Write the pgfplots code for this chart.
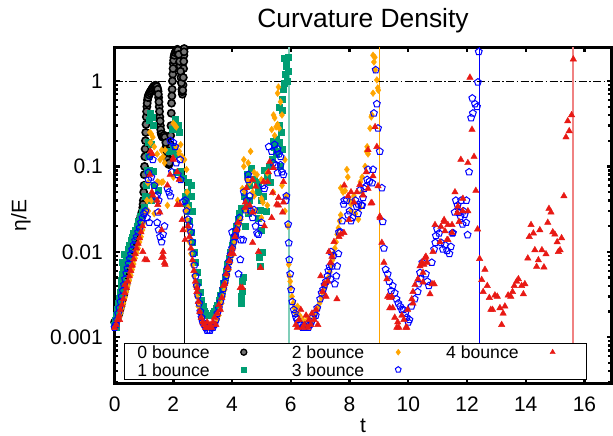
\documentclass[border=0pt]{standalone}
\usepackage{fontspec}
\setmainfont{Liberation Sans}
\usepackage{pgfplots}
\pgfplotsset{compat=1.18}
\definecolor{cgreen}{RGB}{0,158,115}
\definecolor{corange}{RGB}{255,165,0}
\definecolor{cblue}{RGB}{0,0,255}
\definecolor{cred}{RGB}{232,25,20}
\definecolor{lgreen}{RGB}{128,206,185}
\definecolor{lred}{RGB}{240,130,130}
\begin{document}
\begin{tikzpicture}
\begin{axis}[
  scale only axis, width=496.9pt, height=336.3pt,
  xmin=0, xmax=16.92, ymode=log, ymin=2.87e-4, ymax=2.49,
  xtick={0,2,...,16},
  log ticks with fixed point,
  /pgf/number format/precision=3,
  /pgf/number format/assume math mode=true,
  axis line style={line width=3.2pt},
  tick style={line width=2.4pt, black},
  major tick length=5pt, minor tick length=3.2pt,
  tick align=inside,
  ticklabel style={font=\fontsize{21}{21}\selectfont},
  xticklabel style={anchor=north, inner sep=0pt, yshift=-13.2pt},
  yticklabel style={anchor=east, inner sep=0pt, xshift=-11.6pt},
  title={Curvature Density},
  title style={font=\fontsize{26.4}{26.4}\selectfont, at={(axis description cs:0.5,1)}, anchor=base, inner sep=0pt, yshift=14pt},
  xlabel={t}, ylabel={η/E},
  xlabel style={font=\fontsize{21}{21}\selectfont, at={(axis description cs:0.5,0)}, anchor=base, inner sep=0pt, yshift=-48.5pt},
  ylabel style={font=\fontsize{21}{21}\selectfont, at={(axis description cs:-0.1884,0.5)}, anchor=center},
  legend columns=3, legend plot pos=right,
  legend image code/.code={%
    \path[draw=none, fill=none] (-4pt,-6.3pt) rectangle (21.3pt,6.3pt);
    \draw[#1] plot coordinates {(0pt,0.3pt)};
  },
  legend style={
    at={(axis description cs:0.0195,0.0125)}, anchor=south west,
    draw=black, line width=0.8pt, fill=white,
    inner xsep=12.7pt, inner ysep=2.7pt,
    font=\fontsize{17.6}{17.6}\selectfont,
    row sep=4.8pt,
    nodes={inner sep=0pt, text height=12.6pt, text depth=0pt},
    /tikz/every odd column/.append style={column sep=30pt},
    /tikz/every even column/.append style={column sep=26.7pt},
  },
]
% legend entries (column-wise order as in the reference)
\addlegendimage{only marks, mark=*, mark size=3pt, mark options={draw=black, fill=black!55, line width=1.3pt}}
\addlegendentry{0 bounce}
\addlegendimage{only marks, mark=diamond*, mark size=3pt, mark options={draw=corange, fill=corange, line width=0.4pt}}
\addlegendentry{2 bounce}
\addlegendimage{only marks, mark=triangle*, mark size=3pt, mark options={draw=cred, fill=cred, line width=0.4pt}}
\addlegendentry{4 bounce}
\addlegendimage{only marks, mark=square*, mark size=2.6pt, mark options={draw=cgreen, fill=cgreen, line width=0.4pt}}
\addlegendentry{1 bounce}
\addlegendimage{only marks, mark=pentagon, mark size=3pt, mark options={draw=cblue, line width=1pt}}
\addlegendentry{3 bounce}

% reference lines (hidden behind the legend box below its top edge)
\addplot[forget plot, black, line width=0.8pt] coordinates {(2.373,8.3e-4) (2.373,2.49)};
\addplot[forget plot, lgreen, line width=1.8pt] coordinates {(5.928,8.3e-4) (5.928,2.49)};
\addplot[forget plot, corange, line width=1.1pt] coordinates {(9.013,8.3e-4) (9.013,2.49)};
\addplot[forget plot, cblue, line width=0.9pt] coordinates {(12.418,8.3e-4) (12.418,2.49)};
\addplot[forget plot, lred, line width=1.8pt] coordinates {(15.618,8.3e-4) (15.618,2.49)};
\addplot[forget plot, black, line width=0.8pt, dash pattern=on 8pt off 2.5pt on 1.5pt off 2.5pt] coordinates {(0,1) (16.92,1)};

% 0 bounce
\addplot[forget plot, only marks, mark=*, mark size=3.6pt, mark options={draw=black, fill=black!55, line width=1.6pt}] coordinates {
(0.00,0.0015)(0.03,0.0015)(0.06,0.0016)(0.09,0.0017)(0.12,0.0018)(0.15,0.0019)(0.18,0.0021)(0.21,0.0023)(0.24,0.0025)(0.27,0.0028)(0.30,0.0031)(0.33,0.0034)(0.36,0.0038)(0.39,0.0042)(0.42,0.0047)(0.45,0.0053)(0.48,0.0059)(0.51,0.0066)(0.54,0.0074)(0.57,0.0083)(0.60,0.0093)(0.63,0.0105)(0.66,0.0118)(0.69,0.0132)(0.72,0.0148)(0.75,0.0165)(0.78,0.0183)(0.81,0.0202)(0.84,0.0222)(0.87,0.0243)(0.90,0.0265)(0.93,0.029)(0.96,0.033)(0.98,0.04)(1.00,0.06)(1.02,0.10)(1.04,0.16)(1.06,0.25)(1.08,0.38)(1.10,0.50)(1.12,0.60)(1.15,0.67)(1.18,0.71)(1.21,0.74)(1.24,0.77)(1.27,0.80)(1.30,0.83)(1.33,0.86)(1.36,0.88)(1.39,0.89)(1.42,0.88)(1.45,0.84)(1.48,0.76)(1.50,0.64)(1.52,0.50)(1.54,0.38)(1.56,0.30)(1.58,0.25)(1.61,0.23)(1.64,0.22)(1.67,0.23)(1.70,0.23)(1.73,0.21)(1.76,0.17)(1.79,0.13)(1.82,0.11)(1.85,0.105)(1.88,0.12)(1.90,0.18)(1.92,0.30)(1.94,0.55)(1.96,0.80)(1.98,1.2)(2.00,1.6)(2.02,1.9)(2.05,2.1)(2.08,2.2)(2.11,2.3)(2.14,2.35)(2.17,2.2)(2.20,1.9)(2.23,1.5)(2.26,1.1)(2.29,0.8)(2.31,0.7)(2.33,0.9)(2.35,1.4)(2.36,2.0)(2.37,2.4)
(0.97,0.036)(0.99,0.05)(1.01,0.08)(1.03,0.13)(1.05,0.2)(1.07,0.31)(1.09,0.44)(1.11,0.55)(1.135,0.64)(1.165,0.69)(1.195,0.725)(1.225,0.755)(1.255,0.785)(1.285,0.815)(1.315,0.845)(1.345,0.87)(1.375,0.885)(1.405,0.89)(1.435,0.86)(1.465,0.8)(1.49,0.7)(1.51,0.57)(1.53,0.44)(1.55,0.34)(1.57,0.27)(1.595,0.24)(1.625,0.225)(1.655,0.225)(1.685,0.23)(1.715,0.22)(1.745,0.19)(1.775,0.15)(1.805,0.12)(1.835,0.107)(1.865,0.11)(1.89,0.15)(1.91,0.23)(1.93,0.42)(1.95,0.67)(1.97,1.0)(1.99,1.4)(2.01,1.75)(2.035,2.0)(2.065,2.15)(2.095,2.25)(2.125,2.33)(2.155,2.3)(2.185,2.05)(2.215,1.7)(2.245,1.3)(2.275,0.95)(2.30,0.75)(2.32,0.78)(2.34,1.1)(2.355,1.7)(2.365,2.2)
};

% 1 bounce
\addplot[forget plot, only marks, mark=square*, mark size=3pt, color=cgreen] coordinates {
(0.00,0.0014)(0.03,0.0016)(0.06,0.0018)(0.09,0.0021)(0.12,0.0025)(0.15,0.0029)(0.18,0.0034)(0.21,0.004)(0.24,0.0047)(0.27,0.0055)(0.30,0.0063)(0.34,0.0073)(0.38,0.0084)(0.42,0.0095)(0.46,0.0107)(0.50,0.012)(0.55,0.0135)(0.60,0.015)(0.65,0.0165)(0.70,0.018)(0.76,0.02)(0.82,0.023)(0.88,0.026)(0.94,0.029)(1.00,0.033)
(0.05,0.0013)(0.14,0.0022)(0.20,0.0028)(0.26,0.0075)(0.32,0.0095)(0.45,0.008)
(1.04,0.045)(1.08,0.06)(1.10,0.09)(1.12,0.045)(1.14,0.13)(1.15,0.19)(1.17,0.09)(1.18,0.35)(1.22,0.42)(1.24,0.04)(1.25,0.18)(1.27,0.38)(1.32,0.30)(1.33,0.087)(1.35,0.06)(1.50,0.052)(1.85,0.15)(1.95,0.27)(2.00,0.17)(2.05,0.36)(2.10,0.14)(2.10,0.085)(2.15,0.30)(2.20,0.25)(2.25,0.088)(2.35,0.072)(2.48,0.05)(2.50,0.065)(2.50,0.035)(2.60,0.06)(2.62,0.045)(2.63,0.03)
(2.40,0.045)(2.45,0.037)(2.50,0.03)(2.55,0.023)(2.60,0.017)(2.65,0.013)(2.70,0.0098)(2.75,0.0075)(2.80,0.0058)(2.85,0.0044)(2.90,0.0034)(2.95,0.0027)(3.00,0.0023)(3.05,0.002)(3.10,0.0019)(3.15,0.0018)(3.20,0.0018)(3.25,0.0018)(3.30,0.0018)(3.35,0.0019)(3.40,0.002)(3.45,0.0022)(3.50,0.0024)(3.55,0.0027)(3.60,0.0031)(3.65,0.0036)(3.70,0.0043)(3.75,0.0051)(3.80,0.006)(3.85,0.0071)(3.90,0.0085)(3.95,0.01)(4.00,0.012)(4.05,0.0145)(4.10,0.017)(4.15,0.02)(4.20,0.024)(4.25,0.028)(4.30,0.032)
(4.30,0.003)(4.32,0.0025)(4.33,0.0035)(4.35,0.0045)(4.38,0.005)(4.40,0.045)(4.45,0.02)(4.50,0.036)(4.50,0.08)(4.55,0.028)(4.60,0.04)(4.60,0.06)(4.65,0.095)(4.75,0.07)(4.85,0.065)(4.88,0.06)(4.90,0.05)(4.90,0.025)(4.92,0.0087)(4.95,0.0068)(4.97,0.031)(5.00,0.04)(5.00,0.018)(5.02,0.01)(5.05,0.045)(5.10,0.09)(5.15,0.03)(5.20,0.075)(5.25,0.1)(5.30,0.065)(5.35,0.12)(5.40,0.2)(5.45,0.17)(5.50,0.21)(5.50,0.14)(5.55,0.15)(5.60,0.19)(5.60,0.3)(5.62,0.5)(5.65,0.1)(5.68,0.25)(5.70,0.16)(5.70,0.62)(5.72,0.45)(5.74,0.8)(5.76,1.85)(5.78,0.95)(5.80,1.2)(5.83,1.7)(5.85,1.5)(5.88,1.0)(5.90,1.3)(5.91,1.9)
};

% 2 bounce
\addplot[forget plot, only marks, mark=diamond*, mark size=3.4pt, color=corange] coordinates {
(0.00,0.0013)(0.05,0.0014)(0.10,0.0015)(0.15,0.0017)(0.20,0.0019)(0.25,0.0022)(0.30,0.0025)(0.35,0.0029)(0.40,0.0034)(0.45,0.004)(0.50,0.0046)(0.55,0.0053)(0.60,0.0062)(0.65,0.0072)(0.70,0.0084)(0.75,0.0097)(0.80,0.011)(0.85,0.013)(0.90,0.015)(0.95,0.018)(1.00,0.022)(1.05,0.028)
(1.10,0.04)(1.13,0.064)(1.20,0.25)(1.22,0.19)(1.25,0.24)(1.25,0.04)(1.30,0.22)(1.35,0.17)(1.45,0.14)(1.45,0.066)(1.50,0.065)(1.55,0.12)(1.60,0.155)(1.60,0.065)(1.65,0.13)(1.65,0.066)(1.70,0.11)(1.72,0.156)(2.00,0.32)(2.00,0.075)(2.06,0.30)(2.10,0.29)(2.10,0.17)(2.20,0.15)(2.20,0.14)(2.25,0.18)(2.30,0.13)(2.33,0.12)(2.38,0.12)(2.45,0.092)(2.47,0.05)(2.50,0.033)(1.15,0.03)(1.35,0.028)(1.80,0.035)(2.15,0.04)
(2.40,0.03)(2.45,0.024)(2.50,0.018)(2.55,0.013)(2.60,0.0095)(2.65,0.007)(2.70,0.0052)(2.75,0.0039)(2.80,0.003)(2.85,0.0023)(2.90,0.0019)(2.95,0.0016)(3.00,0.0015)(3.10,0.0014)(3.20,0.0013)(3.30,0.0013)(3.40,0.0014)(3.50,0.0016)(3.55,0.0018)(3.60,0.0021)(3.65,0.0025)(3.70,0.003)(3.75,0.0036)(3.80,0.0043)(3.85,0.0052)(3.90,0.0062)(3.95,0.0075)(4.00,0.009)(4.05,0.011)(4.10,0.013)(4.15,0.0155)(4.20,0.018)(4.25,0.021)(4.30,0.024)
(4.35,0.055)(4.40,0.12)(4.40,0.1)(4.45,0.05)(4.50,0.07)(4.50,0.03)(4.55,0.11)(4.60,0.065)(4.63,0.15)(4.70,0.05)(4.75,0.085)(4.75,0.045)(4.80,0.03)(4.85,0.08)(5.00,0.07)(5.00,0.042)(5.00,0.025)(5.05,0.038)(5.10,0.065)(5.20,0.084)(5.20,0.035)(5.35,0.27)(5.40,0.05)(5.41,0.40)(5.45,0.37)(5.45,0.23)(5.50,0.29)(5.55,0.31)(5.55,0.72)(5.58,0.85)(5.60,0.28)(5.65,0.57)(5.70,0.40)(5.70,0.06)(5.80,0.12)(5.80,0.03)(5.85,0.045)(5.90,0.02)
(5.93,0.0071)(5.95,0.0052)(5.98,0.0045)(6.00,0.0038)(6.04,0.003)(6.08,0.0025)(6.12,0.0022)(6.17,0.0019)(6.23,0.0023)(6.30,0.0018)(6.40,0.0016)(6.50,0.0015)(6.58,0.0017)(6.65,0.0016)(6.72,0.0015)(6.80,0.0017)(6.86,0.0019)(6.92,0.0022)(6.98,0.0025)(7.04,0.0029)(7.10,0.0033)(7.16,0.0038)(7.22,0.0044)(7.28,0.005)(7.33,0.0058)(7.38,0.0068)(7.42,0.008)(7.46,0.0095)(7.50,0.011)(7.54,0.013)(7.58,0.016)(7.62,0.019)(7.66,0.023)(7.70,0.027)
(7.70,0.056)(7.78,0.05)(7.85,0.052)(7.91,0.092)(7.94,0.075)(8.00,0.04)(8.05,0.036)(8.10,0.038)(8.15,0.045)(8.05,0.03)(8.20,0.028)(8.30,0.024)(8.36,0.033)(8.37,0.066)(8.42,0.05)(8.43,0.075)(8.53,0.10)(8.58,0.15)(8.60,0.17)(8.63,0.14)(8.70,0.28)(8.74,0.38)(8.76,0.40)(8.80,0.72)(8.80,2.0)(8.83,1.67)(8.86,1.9)(8.87,1.35)(8.93,1.03)(8.96,0.83)(8.98,0.78)
};

% 3 bounce
\addplot[forget plot, only marks, mark=pentagon, mark size=3.6pt, color=cblue, mark options={line width=1pt}] coordinates {
(0.00,0.0013)(0.04,0.0014)(0.08,0.0016)(0.12,0.0019)(0.16,0.0022)(0.20,0.0026)(0.24,0.003)(0.28,0.0035)(0.32,0.0041)(0.36,0.0048)(0.40,0.0056)(0.44,0.0064)(0.48,0.0073)(0.52,0.0083)(0.56,0.0094)(0.60,0.0106)(0.65,0.012)(0.70,0.0135)(0.75,0.015)(0.80,0.017)(0.85,0.019)(0.90,0.022)(0.95,0.025)(1.00,0.028)(1.05,0.03)(1.10,0.025)(1.18,0.022)
(1.15,0.085)(1.20,0.13)(1.25,0.075)(1.30,0.12)(1.15,0.07)(1.35,0.06)(1.40,0.044)(1.45,0.046)(1.50,0.04)(1.48,0.029)(1.45,0.022)(1.50,0.018)(1.55,0.015)(1.60,0.013)(1.65,0.016)(1.70,0.02)(1.80,0.055)(1.85,0.05)(1.90,0.045)(1.90,0.2)(1.95,0.086)(2.00,0.19)(2.06,0.17)(2.10,0.11)(2.15,0.08)(2.23,0.12)(2.25,0.07)(2.33,0.0385)(2.40,0.04)
(2.45,0.03)(2.50,0.024)(2.55,0.02)(2.60,0.017)(2.64,0.013)(2.68,0.0095)(2.72,0.007)(2.76,0.0052)(2.80,0.004)(2.84,0.0031)(2.88,0.0025)(2.92,0.002)(2.96,0.0017)(3.00,0.0015)(3.05,0.0014)(3.10,0.0013)(3.15,0.0012)(3.20,0.0012)(3.25,0.0012)(3.30,0.0013)(3.35,0.0013)(3.40,0.0014)(3.45,0.0016)(3.50,0.0019)(3.55,0.0022)(3.60,0.0026)(3.65,0.0031)(3.70,0.0037)(3.75,0.0044)(3.80,0.0053)(3.85,0.0064)(3.90,0.0077)(3.95,0.0093)(4.00,0.011)(4.05,0.013)(4.10,0.0155)(4.15,0.018)(4.20,0.021)(4.25,0.025)
(4.00,0.017)(4.10,0.015)(4.22,0.0055)(4.28,0.0081)(4.30,0.0138)(4.38,0.0138)(4.40,0.05)(4.45,0.031)(4.50,0.04)(4.55,0.08)(4.55,0.07)(4.60,0.045)(4.65,0.03)(4.70,0.025)(4.75,0.031)(4.80,0.02)(4.85,0.0165)(4.90,0.016)(5.00,0.022)(5.05,0.06)(5.10,0.055)(5.25,0.17)(5.35,0.15)(5.40,0.11)(5.45,0.18)(5.50,0.104)(5.55,0.16)(5.55,0.084)(5.60,0.14)(5.65,0.13)(5.65,0.104)(5.70,0.086)(5.75,0.08)(5.83,0.04)(5.85,0.045)
(5.91,0.021)(5.93,0.0127)(5.95,0.0081)(5.98,0.0055)(6.01,0.0036)(6.05,0.0026)(6.10,0.0021)(6.14,0.0019)(6.18,0.0017)(6.22,0.0016)(6.26,0.0015)(6.30,0.0014)(6.35,0.0014)(6.40,0.0013)(6.45,0.0013)(6.50,0.0013)(6.55,0.0014)(6.60,0.0013)(6.65,0.0014)(6.70,0.0015)(6.75,0.0017)(6.80,0.0019)(6.85,0.0018)(6.90,0.0022)(7.00,0.0028)(7.05,0.0033)(7.10,0.0036)(7.15,0.0041)(7.20,0.0045)(7.25,0.0052)(7.28,0.006)(7.32,0.0067)(7.35,0.0048)(7.37,0.01)(7.40,0.0068)(7.45,0.009)(7.50,0.0042)(7.55,0.0052)(7.58,0.0068)(7.62,0.0095)(7.64,0.017)(7.70,0.017)(7.75,0.023)(7.80,0.036)(7.82,0.04)
(7.90,0.04)(7.95,0.027)(8.00,0.03)(8.05,0.023)(8.10,0.025)(8.20,0.04)(8.24,0.034)(8.29,0.028)(8.30,0.036)(8.36,0.053)(8.40,0.035)(8.46,0.043)(8.43,0.035)(8.50,0.055)(8.55,0.058)(8.60,0.07)(8.63,0.092)(8.68,0.067)(8.77,0.064)(8.80,0.092)(8.83,0.42)(8.89,1.35)(8.93,0.54)(8.97,0.28)(9.03,0.15)(9.10,0.056)
(9.13,0.0225)(9.17,0.011)(9.23,0.0062)(9.30,0.0055)(9.35,0.0045)(9.42,0.0035)(9.47,0.004)(9.54,0.0033)(9.60,0.0028)(9.66,0.0025)(9.72,0.0023)(9.78,0.0021)(9.84,0.0021)(9.90,0.0019)(9.95,0.0017)(10.00,0.0015)(10.04,0.0016)(10.11,0.0023)(10.22,0.0028)(10.32,0.0034)(10.35,0.0042)(10.40,0.0057)(10.42,0.0048)(10.48,0.0075)(10.60,0.0055)(10.65,0.0045)(10.70,0.004)(10.80,0.0075)(10.88,0.0107)(10.92,0.0128)(10.94,0.0154)(10.98,0.0185)(11.05,0.0165)(11.12,0.0128)(11.18,0.0107)(11.25,0.012)(11.32,0.0103)(11.40,0.0095)(11.45,0.0115)(11.50,0.0165)(11.52,0.0167)(11.58,0.029)(11.62,0.04)(11.68,0.035)(11.72,0.0287)(11.78,0.026)(11.85,0.021)(11.92,0.0273)(11.97,0.022)(11.98,0.04)(12.02,0.0158)(11.80,0.04)(11.88,0.03)
(12.07,0.086)(12.14,0.37)(12.20,0.42)(12.18,0.63)(12.27,0.54)(12.34,0.5)(12.37,0.97)(12.40,2.2)
};

% 4 bounce
\addplot[forget plot, only marks, mark=triangle*, mark size=3.7pt, color=cred] coordinates {
(0.00,0.0013)(0.05,0.0014)(0.10,0.0016)(0.15,0.0018)(0.17,0.0016)(0.20,0.0021)(0.25,0.0024)(0.30,0.0028)(0.35,0.0033)(0.35,0.0041)(0.40,0.0038)(0.45,0.0045)(0.50,0.0052)(0.55,0.006)(0.59,0.0069)(0.60,0.007)(0.65,0.0082)(0.70,0.0095)(0.75,0.011)(0.80,0.0125)(0.85,0.0145)(0.90,0.017)(0.95,0.02)(0.96,0.01)(1.03,0.0081)(1.10,0.008)
(1.20,0.08)(1.22,0.15)(1.27,0.05)(1.28,0.14)(1.30,0.046)(1.45,0.04)(1.47,0.0355)(1.54,0.029)(1.60,0.018)(1.65,0.01)(1.60,0.0085)(1.65,0.0088)(1.70,0.0075)(1.72,0.0071)(1.80,0.06)(1.89,0.08)(1.99,0.125)(2.00,0.12)(2.13,0.086)(2.13,0.0355)(2.23,0.0355)(2.30,0.0237)(2.33,0.018)(2.40,0.0138)(2.20,0.07)
(2.50,0.02)(2.55,0.015)(2.60,0.011)(2.65,0.008)(2.70,0.006)(2.75,0.0045)(2.81,0.0038)(2.80,0.0034)(2.85,0.0026)(2.90,0.002)(2.95,0.0017)(3.00,0.0015)(3.05,0.0014)(3.10,0.0013)(3.15,0.0015)(3.20,0.0013)(3.25,0.0014)(3.30,0.0013)(3.35,0.0015)(3.40,0.0017)(3.45,0.0014)(3.50,0.0019)(3.55,0.0024)(3.60,0.0021)(3.65,0.0029)(3.70,0.004)(3.75,0.0042)(3.80,0.0055)(3.85,0.0065)(3.90,0.0078)(3.95,0.0095)(4.00,0.011)(4.04,0.0095)(4.10,0.015)(4.15,0.018)(4.20,0.022)
(4.28,0.0038)(4.35,0.0038)(4.49,0.056)(4.45,0.038)(4.45,0.033)(4.60,0.035)(4.70,0.029)(4.70,0.0128)(4.70,0.07)(4.80,0.058)(4.90,0.01)(4.97,0.0065)(5.07,0.066)(5.21,0.066)(5.24,0.086)(5.28,0.113)(5.38,0.049)(5.41,0.096)(5.52,0.036)(5.58,0.043)(5.58,0.035)(5.72,0.029)(5.75,0.066)(5.75,0.038)(5.35,0.025)(5.10,0.02)
(6.17,0.0014)(6.22,0.0013)(6.28,0.0016)(6.34,0.0021)(6.40,0.0013)(6.46,0.0014)(6.52,0.0018)(6.58,0.0013)(6.62,0.0016)(6.68,0.0014)(6.72,0.0019)(6.80,0.0016)(6.86,0.0021)(6.92,0.0014)(7.02,0.0052)(7.08,0.0034)(7.14,0.0042)(7.20,0.003)(7.26,0.0045)(7.30,0.01)(7.35,0.0075)(7.40,0.0088)(7.47,0.0131)(7.57,0.0028)(7.64,0.015)(7.70,0.016)(7.81,0.0167)(7.98,0.0237)
(7.82,0.06)(7.95,0.045)(8.05,0.05)(8.15,0.038)(8.25,0.05)(8.35,0.061)(8.46,0.046)(8.57,0.086)(8.63,0.055)(8.63,0.156)(8.73,0.037)(8.76,0.0375)(8.80,0.077)(8.87,0.29)(8.93,0.17)(8.97,0.059)(9.04,0.025)
(9.03,0.026)(9.10,0.0128)(9.17,0.0075)(9.27,0.0048)(9.30,0.003)(9.37,0.0029)(9.37,0.0022)(9.44,0.003)(9.47,0.0022)(9.54,0.0017)(9.61,0.0013)(9.64,0.0015)(9.68,0.0013)(9.78,0.0018)(9.85,0.0016)(9.92,0.0013)(9.95,0.0013)(9.98,0.0021)(10.12,0.0028)(10.16,0.0034)(10.16,0.0025)(10.23,0.0041)(10.33,0.0048)(10.40,0.0068)(10.46,0.0075)(10.50,0.0044)(10.50,0.0057)(10.53,0.0071)(10.57,0.0085)(10.60,0.0088)(10.64,0.0075)(10.74,0.0032)(10.81,0.0042)(10.84,0.01)(10.88,0.0042)(10.91,0.0207)(11.11,0.0197)(11.08,0.013)(11.22,0.0237)(11.22,0.0225)(11.25,0.0175)(11.32,0.0138)(11.35,0.0207)(11.35,0.0138)(11.49,0.0207)(11.49,0.0167)(11.67,0.0287)(11.73,0.0225)
(11.59,0.05)(11.79,0.12)(11.86,0.042)(11.69,0.034)(11.85,0.03)(12.03,0.03)(12.03,0.11)(12.10,1.1)(12.17,0.27)(12.24,0.13)(12.30,0.052)
(12.36,0.0184)(12.43,0.0083)(12.50,0.0047)(12.55,0.0034)(12.61,0.0062)(12.69,0.004)(12.76,0.0029)(12.81,0.0021)(12.87,0.0021)(12.95,0.0031)(13.03,0.003)(13.12,0.0022)(13.18,0.0014)(13.23,0.0019)(13.29,0.0023)(13.40,0.0031)(13.49,0.003)(13.55,0.0034)(13.61,0.004)(13.69,0.0045)(13.75,0.0048)(13.86,0.004)(13.92,0.0032)(13.97,0.0042)(14.07,0.0084)(14.12,0.015)(14.18,0.0207)(14.26,0.0165)(14.31,0.0105)(14.37,0.0067)(14.43,0.008)(14.48,0.018)(14.55,0.0105)(14.62,0.0066)(14.69,0.0094)(14.75,0.022)(14.79,0.032)(14.86,0.029)(14.92,0.017)(14.99,0.016)(15.07,0.013)(15.11,0.01)(15.17,0.0105)(15.22,0.0145)(15.30,0.045)(15.37,0.22)(15.43,0.34)(15.48,0.26)(15.56,0.40)(15.62,1.8)
};
\end{axis}
\pgfresetboundingbox
\path[use as bounding box] (-114.6pt,-52.5pt) rectangle (498.4pt,383.5pt);
\end{tikzpicture}
\end{document}
